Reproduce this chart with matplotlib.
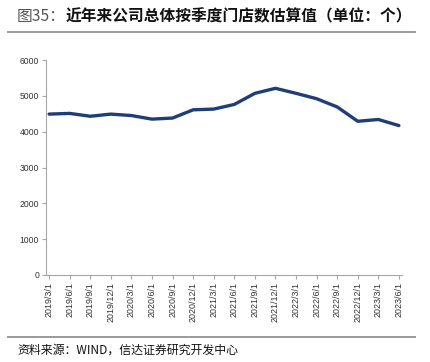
import matplotlib
matplotlib.use("Agg")
import matplotlib.pyplot as plt
from matplotlib.lines import Line2D

categories = ["2019/3/1", "2019/6/1", "2019/9/1", "2019/12/1", "2020/3/1", "2020/6/1",
              "2020/9/1", "2020/12/1", "2021/3/1", "2021/6/1", "2021/9/1", "2021/12/1",
              "2022/3/1", "2022/6/1", "2022/9/1", "2022/12/1", "2023/3/1", "2023/6/1"]
stores = [4490, 4510, 4430, 4490, 4450, 4350, 4380, 4610, 4630, 4760, 5070, 5210,
          5070, 4920, 4690, 4290, 4340, 4170]
yticks = [0, 1000, 2000, 3000, 4000, 5000, 6000]

title_prefix = "图35："
title_main = "近年来公司总体按季度门店数估算值（单位：个）"
source = "资料来源：WIND，信达证券研究开发中心"

W, H = 430, 362
fig = plt.figure(figsize=(W / 100, H / 100), dpi=100)

ax = fig.add_axes([46 / W, 1 - 275 / H, (402 - 46) / W, (275 - 60) / H])
x = list(range(len(categories)))
ax.plot(x, stores, color="#1F3E78", lw=2.4, solid_capstyle="round", solid_joinstyle="round")
ax.set_xlim(-0.15, len(categories) - 1 + 0.15)
ax.set_ylim(0, 6000)
ax.set_yticks(yticks)
ax.set_yticklabels([str(v) for v in yticks], fontsize=6.2, family="Liberation Sans", color="#333333")
ax.set_xticks(x)
ax.set_xticklabels(categories, rotation=90, fontsize=6.4, family="Liberation Sans", color="#333333")
for s in ["top", "right"]:
    ax.spines[s].set_visible(False)
for s in ["left", "bottom"]:
    ax.spines[s].set_color("#A6A6A6")
    ax.spines[s].set_linewidth(0.8)
ax.tick_params(axis="both", colors="#A6A6A6", length=3, width=0.8, pad=2, labelcolor="#333333")

# title
cjk = ["Noto Sans CJK SC", "DejaVu Sans"]
t1 = fig.text(17 / W, 1 - 16 / H, title_prefix, fontsize=11.3, color="#555555",
              family=cjk, va="center", ha="left")
fig.canvas.draw()
bb = t1.get_window_extent()
fig.text(bb.x1 / W, 1 - 16 / H, title_main, fontsize=11.3, color="#111111",
         family=cjk, fontweight="bold", va="center", ha="left")

fig.add_artist(Line2D([8 / W, 415 / W], [1 - 32 / H, 1 - 32 / H], color="#9A9A9A", lw=1.4))
fig.add_artist(Line2D([8 / W, 415 / W], [1 - 337 / H, 1 - 337 / H], color="#9A9A9A", lw=1.4))

fig.text(17 / W, 1 - 350 / H, source, fontsize=8.6, color="#111111", family=cjk,
         va="center", ha="left")

fig.savefig("out.png", dpi=100)
